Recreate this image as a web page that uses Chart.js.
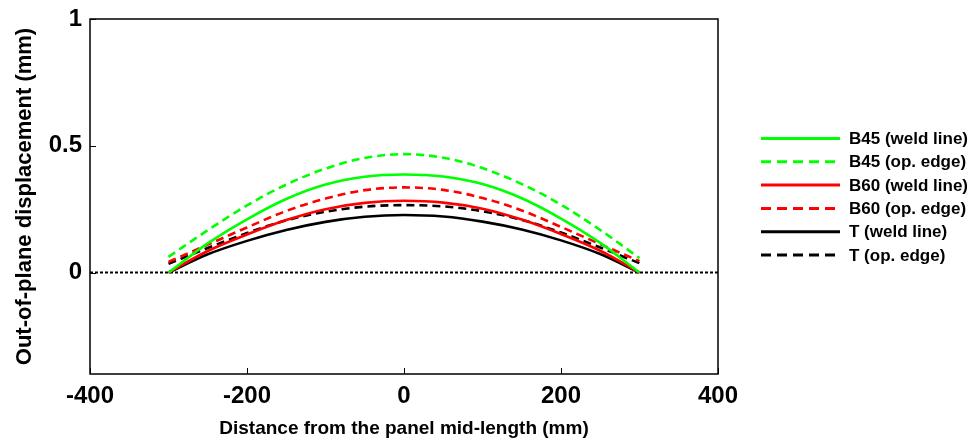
<!DOCTYPE html>
<html>
<head>
<meta charset="utf-8">
<script src="https://cdn.jsdelivr.net/npm/chart.js@4/dist/chart.umd.min.js"></script>
<style>
    html, body { margin: 0; padding: 0; background: #fff; }
    #wrap { width: 975px; height: 444px; position: relative; }
</style>
</head>
<body>
<div id="wrap"><canvas id="chart"></canvas></div>
<script>
// distance from mid-length (mm)
const xPos = [-300, -250, -200, -150, -100, -50, 0, 50, 100, 150, 200, 250, 300];

// out-of-plane displacement (mm)
const b45Weld = [0, 0.115, 0.21, 0.29, 0.347, 0.378, 0.387, 0.379, 0.349, 0.293, 0.213, 0.117, 0];
const b45Edge = [0.062, 0.167, 0.265, 0.347, 0.41, 0.452, 0.467, 0.453, 0.412, 0.349, 0.268, 0.168, 0.057];
const b60Weld = [0, 0.085, 0.15, 0.207, 0.25, 0.275, 0.283, 0.276, 0.252, 0.209, 0.152, 0.086, 0];
const b60Edge = [0.042, 0.11, 0.178, 0.243, 0.292, 0.325, 0.336, 0.326, 0.294, 0.245, 0.18, 0.112, 0.045];
const tWeld = [0, 0.072, 0.125, 0.168, 0.2, 0.22, 0.227, 0.221, 0.201, 0.17, 0.127, 0.073, 0];
const tEdge = [0.035, 0.097, 0.156, 0.206, 0.24, 0.26, 0.266, 0.261, 0.242, 0.208, 0.158, 0.099, 0.037];

// zero reference line
const zeroX = [-400, 400];
const zeroY = [0, 0];

const xTicks = [-400, -200, 0, 200, 400];
const yTicks = [0, 0.5, 1];

const FONT = '"Liberation Sans", Arial, sans-serif';

function toPoints(xs, ys) {
    return xs.map((x, i) => ({ x: x, y: ys[i] }));
}

function series(label, ys, color, dashed) {
    return {
        label: label,
        data: toPoints(xPos, ys),
        borderColor: color,
        backgroundColor: color,
        borderWidth: 2.6,
        borderDash: dashed ? [8, 5] : [],
        pointRadius: 0,
        cubicInterpolationMode: 'monotone',
        fill: false
    };
}

const datasets = [
    series('B45 (weld line)', b45Weld, '#00ff00', false),
    series('B45 (op. edge)', b45Edge, '#00ff00', true),
    series('B60 (weld line)', b60Weld, '#ff0000', false),
    series('B60 (op. edge)', b60Edge, '#ff0000', true),
    series('T (weld line)', tWeld, '#000000', false),
    series('T (op. edge)', tEdge, '#000000', true),
    {
        label: 'zero',
        data: toPoints(zeroX, zeroY),
        borderColor: '#000000',
        borderWidth: 2,
        borderDash: [3, 2],
        pointRadius: 0,
        fill: false
    }
];

// box around the plot and inward tick marks
const boxPlugin = {
    id: 'box',
    afterDatasetsDraw(chart) {
        const { ctx, chartArea: a, scales } = chart;
        ctx.save();
        ctx.strokeStyle = '#000';
        ctx.lineWidth = 1.5;
        ctx.setLineDash([]);
        ctx.strokeRect(a.left, a.top, a.right - a.left, a.bottom - a.top);
        ctx.lineWidth = 1;
        xTicks.forEach(v => {
            const px = Math.round(scales.x.getPixelForValue(v)) + 0.5;
            ctx.beginPath();
            ctx.moveTo(px, a.bottom);
            ctx.lineTo(px, a.bottom - 6);
            ctx.stroke();
        });
        yTicks.forEach(v => {
            const py = Math.round(scales.y.getPixelForValue(v)) + 0.5;
            ctx.beginPath();
            ctx.moveTo(a.left, py);
            ctx.lineTo(a.left + 6, py);
            ctx.stroke();
        });
        ctx.restore();
    }
};

// legend outside the plot on the right
const legendPlugin = {
    id: 'sideLegend',
    afterDraw(chart) {
        const ctx = chart.ctx;
        const items = chart.data.datasets.filter(d => d.label !== 'zero');
        ctx.save();
        ctx.font = 'bold 17px ' + FONT;
        ctx.textBaseline = 'middle';
        ctx.textAlign = 'left';
        items.forEach((d, i) => {
            const y = 138.5 + i * 23.3;
            ctx.strokeStyle = d.borderColor;
            ctx.lineWidth = 3;
            ctx.setLineDash(d.borderDash.length ? [10, 6] : []);
            ctx.beginPath();
            ctx.moveTo(761, y);
            ctx.lineTo(840, y);
            ctx.stroke();
            ctx.fillStyle = '#000';
            ctx.fillText(d.label, 849, y + 1);
        });
        ctx.restore();
    }
};

new Chart(document.getElementById('chart'), {
    type: 'line',
    data: { datasets: datasets },
    plugins: [boxPlugin, legendPlugin],
    options: {
        responsive: true,
        maintainAspectRatio: false,
        animation: false,
        layout: { padding: { top: 19, right: 257, left: 0, bottom: 0 } },
        plugins: {
            legend: { display: false },
            tooltip: { enabled: false }
        },
        scales: {
            x: {
                type: 'linear',
                min: -400,
                max: 400,
                afterBuildTicks: axis => { axis.ticks = xTicks.map(v => ({ value: v })); },
                afterFit: axis => { axis.height = 70; },
                grid: { display: false },
                border: { display: false },
                ticks: {
                    color: '#000',
                    padding: 0,
                    maxRotation: 0,
                    callback: v => String(v),
                    font: { family: FONT, size: 24, weight: 'bold' }
                },
                title: {
                    display: true,
                    text: 'Distance from the panel mid-length (mm)',
                    color: '#000',
                    padding: { top: 0, bottom: 4 },
                    font: { family: FONT, size: 19, weight: 'bold' }
                }
            },
            y: {
                type: 'linear',
                min: -0.4,
                max: 1,
                afterBuildTicks: axis => { axis.ticks = yTicks.map(v => ({ value: v })); },
                afterFit: axis => { axis.width = 90; },
                grid: { display: false },
                border: { display: false },
                ticks: {
                    color: '#000',
                    padding: 0,
                    callback: v => String(v),
                    font: { family: FONT, size: 24, weight: 'bold' }
                },
                title: {
                    display: true,
                    text: 'Out-of-plane displacement (mm)',
                    color: '#000',
                    padding: { top: 12, bottom: 0 },
                    font: { family: FONT, size: 22, weight: 'bold' }
                }
            }
        }
    }
});
</script>
</body>
</html>
